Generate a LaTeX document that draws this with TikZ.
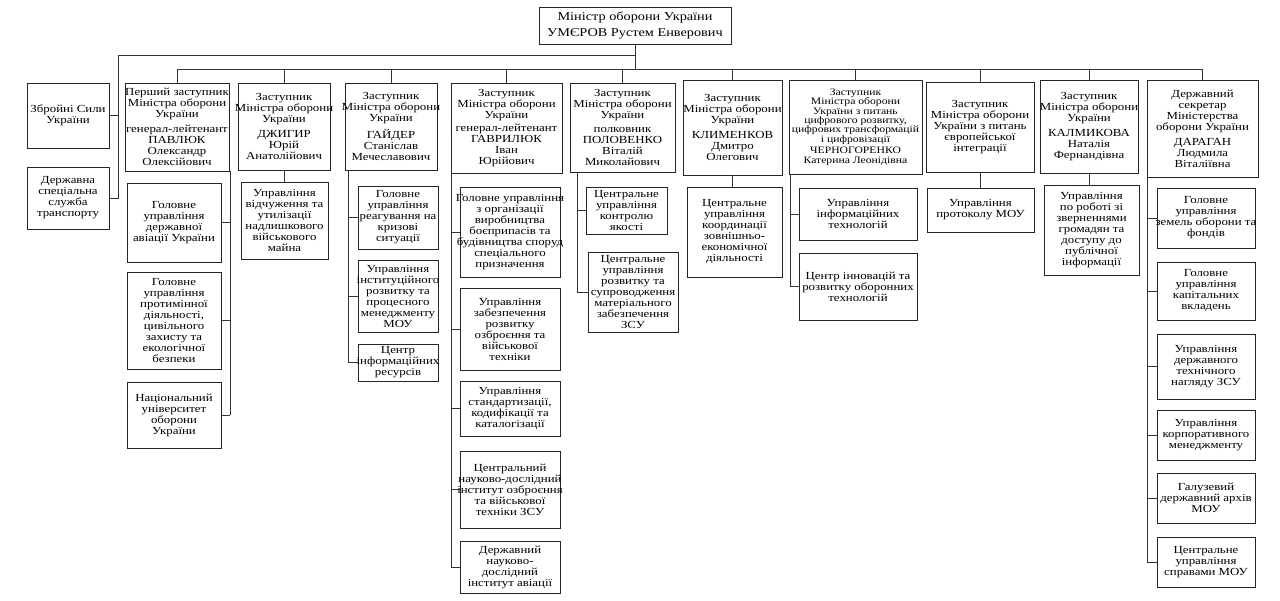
\documentclass[tikz,border=0pt]{standalone}
\usepackage{fontspec}
\setmainfont{Liberation Serif}[FakeStretch=1.19]
\newcommand\obox[7][]{%
  \pgfmathsetmacro\oboxw{#5-#3}\pgfmathsetmacro\oboxh{#6-#4}%
  \pgfmathsetmacro\oboxx{(#3+#5)/2}\pgfmathsetmacro\oboxy{(#4+#6)/2}%
  \node[bx, minimum width=\oboxw pt, minimum height=\oboxh pt] (#2) at (\oboxx,\oboxy) {};%
  \node[tx,#1] (#2t) at (#2.center) {#7};}
\begin{document}
\begin{tikzpicture}[x=1pt,y=-1pt,
  bx/.style={draw=black!85, line width=1pt, inner sep=0pt, outer sep=0pt},
  tx/.style={align=center, inner sep=0pt, font=\fontsize{10.8}{11}\selectfont, text=black},
  ln/.style={draw=black!80, line width=1pt},
  small/.style={font=\fontsize{9.8}{9.4}\selectfont}]
\useasboundingbox[fill=white] (0,0) rectangle (1280,600);

% top
\obox[font=\fontsize{12}{15.5}\selectfont]{min}{539}{7}{731}{44}{Міністр оборони України\\УМЄРОВ Рустем Енверович}

% left column
\obox{zsu}{27}{83}{109}{148}{Збройні Сили\\України}
\obox{dsst}{27}{167}{109}{229}{Державна\\спеціальна\\служба\\транспорту}

% Pavliuk
\obox{pav}{125}{83}{229}{171}{Перший заступник\\Міністра оборони\\України\\[4pt]генерал-лейтенант\\ПАВЛЮК\\Олександр\\Олексійович}
\obox{pc1}{127}{183}{221}{262}{Головне\\управління\\державної\\авіації України}
\obox{pc2}{127}{272}{221}{369}{Головне\\управління\\протимінної\\діяльності,\\цивільного\\захисту та\\екологічної\\безпеки}
\obox{pc3}{127}{382}{221}{448}{Національний\\університет\\оборони\\України}

% Dzhyhyr
\obox{dz}{238}{83}{330}{170}{Заступник\\Міністра оборони\\України\\[4pt]ДЖИГИР\\Юрій\\Анатолійович}
\obox{dzc}{241}{182}{328}{259}{Управління\\відчуження та\\утилізації\\надлишкового\\військового\\майна}

% Haider
\obox{hd}{345}{83}{437}{170}{Заступник\\Міністра оборони\\України\\[4pt]ГАЙДЕР\\Станіслав\\Мечеславович}
\obox{hc1}{358}{186}{438}{249}{Головне\\управління\\реагування на\\кризові\\ситуації}
\obox{hc2}{358}{260}{438}{332}{Управління\\інституційного\\розвитку та\\процесного\\менеджменту\\МОУ}
\obox{hc3}{358}{344}{438}{381}{Центр\\інформаційних\\ресурсів}

% Havryliuk
\obox{hv}{451}{83}{562}{173}{Заступник\\Міністра оборони\\України\\[2pt]генерал-лейтенант\\ГАВРИЛЮК\\Іван\\Юрійович}
\obox{vc1}{460}{187}{560}{277}{Головне управління\\з організації\\виробництва\\боєприпасів та\\будівництва споруд\\спеціального\\призначення}
\obox{vc2}{460}{288}{560}{370}{Управління\\забезпечення\\розвитку\\озброєння та\\військової\\техніки}
\obox{vc3}{460}{381}{560}{436}{Управління\\стандартизації,\\кодифікації та\\каталогізації}
\obox{vc4}{460}{451}{560}{528}{Центральний\\науково-дослідний\\інститут озброєння\\та військової\\техніки ЗСУ}
\obox{vc5}{460}{541}{560}{593}{Державний\\науково-\\дослідний\\інститут авіації}

% Polovenko
\obox{pl}{570}{83}{675}{172}{Заступник\\Міністра оборони\\України\\[3pt]полковник\\ПОЛОВЕНКО\\Віталій\\Миколайович}
\obox{pl1}{586}{187}{667}{234}{Центральне\\управління\\контролю\\якості}
\obox{pl2}{588}{252}{678}{332}{Центральне\\управління\\розвитку та\\супроводження\\матеріального\\забезпечення\\ЗСУ}

% Klymenkov
\obox{kl}{683}{80}{782}{175}{Заступник\\Міністра оборони\\України\\[4pt]КЛИМЕНКОВ\\Дмитро\\Олегович}
\obox{klc}{687}{187}{782}{277}{Центральне\\управління\\координації\\зовнішньо-\\економічної\\діяльності}

% Chernohorenko
\obox[small]{ch}{789}{80}{922}{174}{Заступник\\Міністра оборони\\України з питань\\цифрового розвитку,\\цифрових трансформацій\\і цифровізації\\[2pt]ЧЕРНОГОРЕНКО\\Катерина Леонідівна}
\obox{ch1}{799}{188}{917}{240}{Управління\\інформаційних\\технологій}
\obox{ch2}{799}{253}{917}{320}{Центр інновацій та\\розвитку оборонних\\технологій}

% European integration
\obox{eu}{926}{82}{1034}{172}{Заступник\\Міністра оборони\\України з питань\\європейської\\інтеграції}
\obox{euc}{927}{188}{1034}{232}{Управління\\протоколу МОУ}

% Kalmykova
\obox{ka}{1040}{80}{1138}{173}{Заступник\\Міністра оборони\\України\\[4pt]КАЛМИКОВА\\Наталія\\Фернандівна}
\obox{kac}{1044}{185}{1139}{275}{Управління\\по роботі зі\\зверненнями\\громадян та\\доступу до\\публічної\\інформації}

% Daragan
\obox{dr}{1147}{80}{1258}{177}{Державний\\секретар\\Міністерства\\оборони України\\[4pt]ДАРАГАН\\Людмила\\Віталіївна}
\obox{d1}{1157}{188}{1255}{248}{Головне\\управління\\земель оборони та\\фондів}
\obox{d2}{1157}{262}{1255}{320}{Головне\\управління\\капітальних\\вкладень}
\obox{d3}{1157}{334}{1255}{399}{Управління\\державного\\технічного\\нагляду ЗСУ}
\obox{d4}{1157}{410}{1255}{460}{Управління\\корпоративного\\менеджменту}
\obox{d5}{1157}{473}{1255}{523}{Галузевий\\державний архів\\МОУ}
\obox{d6}{1157}{537}{1255}{587}{Центральне\\управління\\справами МОУ}

% connectors
\coordinate (bus) at (0,69);
\coordinate (lk) at (118,55);
\draw[ln] (min.south) -- (min.south |- bus);
\draw[ln] (pav.north |- bus) -- (dr.north |- bus);
\foreach \d in {pav,dz,hd,hv,pl,kl,ch,eu,ka,dr}
  \draw[ln] (\d.north) -- (\d.north |- bus);
\draw[ln] (min.south |- lk) -- (lk) -- (lk |- dsst.east) -- (dsst.east);
\draw[ln] (zsu.east) -- (lk |- zsu.east);

% Pavliuk
\coordinate (pvv) at ([xshift=1pt]pav.south east);
\draw[ln] (pvv) -- (pvv |- pc3.east);
\foreach \c in {pc1,pc2,pc3} \draw[ln] (\c.east) -- (pvv |- \c.east);
% Dzhyhyr
\draw[ln] (dz.south) -- (dz.south |- dzc.north);
% Haider
\coordinate (hdv) at ([xshift=3pt]hd.south west);
\draw[ln] (hdv) -- (hdv |- hc3.west);
\foreach \c in {hc1,hc2,hc3} \draw[ln] (hdv |- \c.west) -- (\c.west);
% Havryliuk
\coordinate (hvv) at (hv.south west);
\draw[ln] (hvv) -- (hvv |- vc5.west);
\foreach \c in {vc1,vc2,vc3,vc4,vc5} \draw[ln] (hvv |- \c.west) -- (\c.west);
% Polovenko
\coordinate (plv) at ([xshift=7pt]pl.south west);
\draw[ln] (plv) -- (plv |- pl2.west);
\foreach \c in {pl1,pl2} \draw[ln] (plv |- \c.west) -- (\c.west);
% Klymenkov
\draw[ln] (kl.south) -- (kl.south |- klc.north);
% Chernohorenko
\coordinate (chv) at ([xshift=1pt]ch.south west);
\draw[ln] (chv) -- (chv |- ch2.west);
\foreach \c in {ch1,ch2} \draw[ln] (chv |- \c.west) -- (\c.west);
% European
\draw[ln] (eu.south) -- (eu.south |- euc.north);
% Kalmykova
\draw[ln] (ka.south) -- (ka.south |- kac.north);
% Daragan
\coordinate (drv) at (dr.south west);
\draw[ln] (drv) -- (drv |- d6.west);
\foreach \c in {d1,d2,d3,d4,d5,d6} \draw[ln] (drv |- \c.west) -- (\c.west);
\end{tikzpicture}
\end{document}
